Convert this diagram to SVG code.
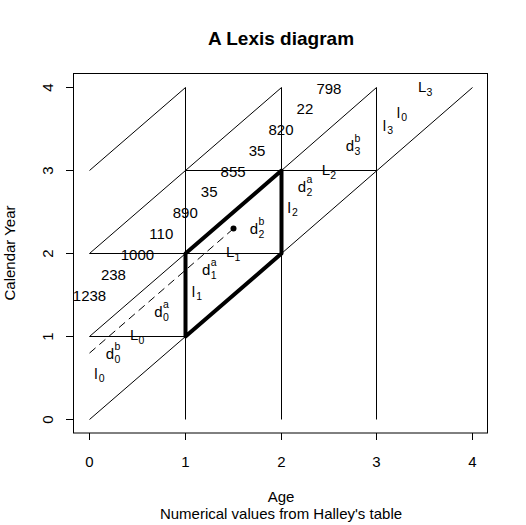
<svg xmlns="http://www.w3.org/2000/svg" width="526" height="525" viewBox="0 0 526 525">
<style>
text{font-family:"Liberation Sans",Arial,sans-serif;font-size:15px;fill:#000}
.t{font-size:19px;font-weight:bold}
.s{font-size:10.5px}
.c{text-anchor:middle}
.thin{stroke:#000;stroke-width:1;fill:none}
.thick{stroke:#000;stroke-width:4;fill:none;stroke-linejoin:round;stroke-linecap:round}
.dash{stroke:#000;stroke-width:1;fill:none;stroke-dasharray:8,5}
</style>
<rect width="526" height="525" fill="#fff"/>
<text class="t c" x="281" y="45">A Lexis diagram</text>
<g id="axes">
<rect class="thin" x="73.5" y="73.5" width="414" height="359.5"/>
<path class="thin" d="M89.5,433V440M185.5,433V440M281.5,433V440M376.5,433V440M472.5,433V440M66,419.5H73.5M66,336.5H73.5M66,253.5H73.5M66,170.5H73.5M66,87.5H73.5"/>
<g class="c">
<text x="89.5" y="467">0</text><text x="185.5" y="467">1</text><text x="281.5" y="467">2</text><text x="376.5" y="467">3</text><text x="472.5" y="467">4</text>
<text transform="translate(53,419.5) rotate(-90)">0</text>
<text transform="translate(53,336.5) rotate(-90)">1</text>
<text transform="translate(53,253.5) rotate(-90)">2</text>
<text transform="translate(53,170.5) rotate(-90)">3</text>
<text transform="translate(53,87.5) rotate(-90)">4</text>
<text transform="translate(15,253) rotate(-90)">Calendar Year</text>
<text x="281" y="502">Age</text>
<text x="281" y="519">Numerical values from Halley's table</text>
</g>
</g>
<g id="connectors">
<path class="thin" d="M89.5,419.5L185.5,336.5M281.5,253.5L472.5,87.5M89.5,336.5L185.5,253.5M281.5,170.5L376.5,87.5M89.5,253.5L281.5,87.5M89.5,170.5L185.5,87.5"/>
<path class="thin" d="M185.5,419.5V87.5M281.5,419.5V87.5M376.5,419.5V87.5M89.5,336.5H185.5M89.5,253.5H281.5M185.5,170.5H376.5"/>
<path class="thick" d="M185.5,336.5L185.5,253.5L281.5,170.5L281.5,253.5Z"/>
<path class="dash" d="M89.5,353.1L233.5,228.6"/>
<circle cx="233.5" cy="228.6" r="3" fill="#000"/>
</g>
<g id="counts" class="c">
<text x="328.9" y="93.5">798</text>
<text x="304.9" y="114.25">22</text>
<text x="281" y="135">820</text>
<text x="257.1" y="155.75">35</text>
<text x="233.1" y="176.5">855</text>
<text x="209.2" y="197.25">35</text>
<text x="185.25" y="218">890</text>
<text x="161.3" y="238.75">110</text>
<text x="137.4" y="259.5">1000</text>
<text x="113.4" y="280.25">238</text>
<text x="89.5" y="301">1238</text>
</g>
<g id="deaths">
<text x="105.7" y="359.3">d<tspan class="s" x="114.5" y="350.3">b</tspan><tspan class="s" x="114.5" y="363.3">0</tspan></text>
<text x="154.3" y="316.7">d<tspan class="s" x="163.1" y="307.7">a</tspan><tspan class="s" x="163.1" y="320.7">0</tspan></text>
<text x="202" y="275">d<tspan class="s" x="210.8" y="266">a</tspan><tspan class="s" x="210.8" y="279">1</tspan></text>
<text x="297.8" y="192">d<tspan class="s" x="306.6" y="183">a</tspan><tspan class="s" x="306.6" y="196">2</tspan></text>
<text x="249.8" y="234">d<tspan class="s" x="258.6" y="225">b</tspan><tspan class="s" x="258.6" y="238">2</tspan></text>
<text x="345.8" y="151">d<tspan class="s" x="354.6" y="142">b</tspan><tspan class="s" x="354.6" y="155">3</tspan></text>
</g>
<g id="survivors">
<text x="94.3" y="379.3">l<tspan class="s" x="98.8" y="382.3">0</tspan></text>
<text x="191.7" y="296.5">l<tspan class="s" x="196.2" y="299.5">1</tspan></text>
<text x="287.5" y="213">l<tspan class="s" x="292" y="216">2</tspan></text>
<text x="382.7" y="131">l<tspan class="s" x="387.2" y="134">3</tspan></text>
<text x="396.7" y="118.3">l<tspan class="s" x="401.2" y="121.3">0</tspan></text>
</g>
<g id="lived">
<text x="130" y="340">L<tspan class="s" x="138.5" y="344">0</tspan></text>
<text x="226" y="257">L<tspan class="s" x="234.5" y="261">1</tspan></text>
<text x="321.7" y="174.5">L<tspan class="s" x="330.2" y="178.5">2</tspan></text>
<text x="418" y="92">L<tspan class="s" x="426.5" y="96">3</tspan></text>
</g>
</svg>
